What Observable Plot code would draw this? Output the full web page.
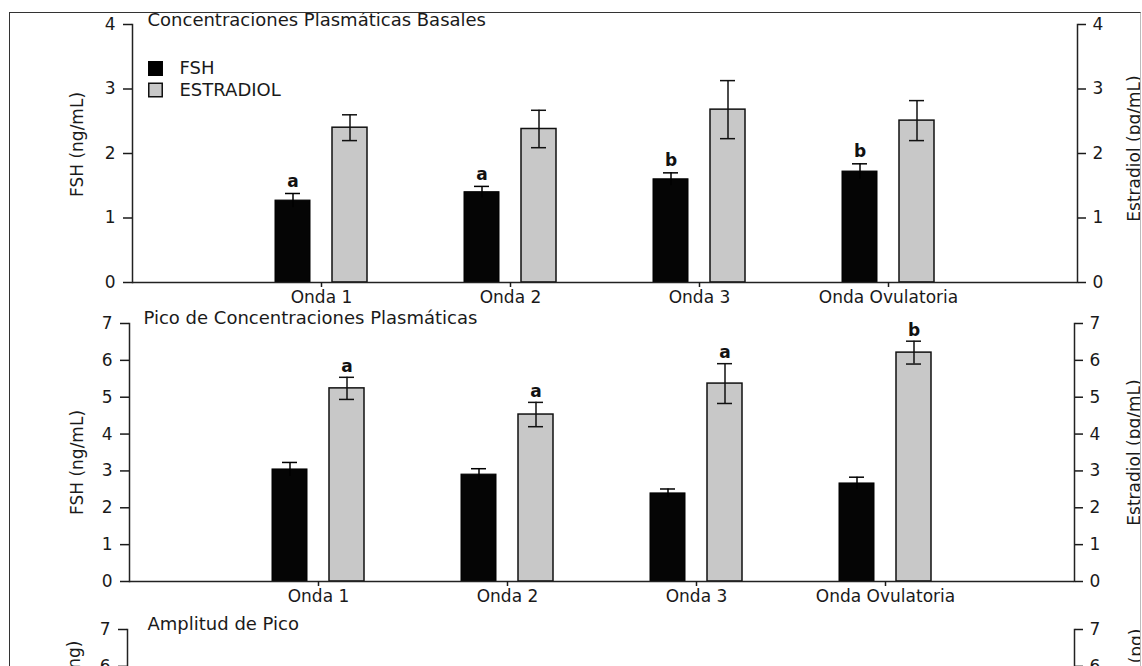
<!DOCTYPE html>
<html><head><meta charset="utf-8">
<script src="https://cdn.jsdelivr.net/npm/d3@7"></script>
<script src="https://cdn.jsdelivr.net/npm/@observablehq/plot@0.6"></script>
<style>
html,body{margin:0;padding:0;background:#fff;overflow:hidden;width:1142px;height:666px;}
#frame{position:absolute;left:9px;top:12px;width:1132px;height:700px;box-sizing:border-box;border:1px solid #333;border-right-color:#bbb;overflow:hidden;background:#fff;}
svg.panel{position:absolute;left:-10px;max-width:none !important;}
</style></head><body><div id="frame"></div>
<script>
// ---- data ----
const categories = ["Onda 1", "Onda 2", "Onda 3", "Onda Ovulatoria"];
const series = ["FSH", "ESTRADIOL"];

const basalFSH      = [1.27, 1.40, 1.60, 1.72];
const basalFSHerr   = [0.11, 0.09, 0.10, 0.12];
const basalE2       = [2.40, 2.38, 2.68, 2.51];
const basalE2err    = [0.20, 0.29, 0.45, 0.31];
const basalFSHlet   = ["a", "a", "b", "b"];
const basalE2let    = ["", "", "", ""];

const peakFSH       = [3.04, 2.90, 2.39, 2.66];
const peakFSHerr    = [0.19, 0.16, 0.12, 0.17];
const peakE2        = [5.24, 4.53, 5.37, 6.21];
const peakE2err     = [0.30, 0.33, 0.54, 0.31];
const peakFSHlet    = ["", "", "", ""];
const peakE2let     = ["a", "a", "a", "b"];

const basalTicks = [0, 1, 2, 3, 4];
const peakTicks  = [0, 1, 2, 3, 4, 5, 6, 7];
const ampTicks   = [6, 7];   // only the visible part of the truncated third panel
const ampMax     = 7;

const titles = ["Concentraciones Plasmáticas Basales", "Pico de Concentraciones Plasmáticas", "Amplitud de Pico"];
const leftLabels  = ["FSH (ng/mL)", "FSH (ng/mL)", "FSH (ng)"];
const rightLabels = ["Estradiol (pg/mL)", "Estradiol (pg/mL)", "Estradiol (pg)"];

function makeRows(fsh, fshErr, e2, e2Err, fshLet, e2Let) {
  if (!fsh) return [];
  return categories.map((c, i) => ({onda: c, fsh: fsh[i], fshErr: fshErr[i], e2: e2[i], e2Err: e2Err[i], fshLet: fshLet[i], e2Let: e2Let[i]}));
}

const W = 1142;
const FONT = "DejaVu Sans";
const fmt = d3.format("d");

function panel(o) {
  const rows = o.rows;
  const half = (W - o.ml - o.mr) / 5 / 2;
  const off = 28.5;
  const marks = [
    Plot.barY(rows, {x: "onda", y: "fsh", fill: "#050505", stroke: "#000", strokeWidth: 1, insetLeft: half - 46, insetRight: half + 11}),
    Plot.barY(rows, {x: "onda", y: "e2", fill: "#c8c8c8", stroke: "#111", strokeWidth: 1.5, insetLeft: half + 11, insetRight: half - 46}),
    Plot.ruleX(rows, {x: "onda", y1: d => d.fsh - d.fshErr, y2: d => d.fsh + d.fshErr, dx: -off, stroke: "#000", strokeWidth: 1.5}),
    Plot.tickY(rows, {x: "onda", y: d => d.fsh + d.fshErr, dx: -off, insetLeft: half - 7.5, insetRight: half - 7.5, stroke: "#000", strokeWidth: 1.5}),
    Plot.ruleX(rows, {x: "onda", y1: d => d.e2 - d.e2Err, y2: d => d.e2 + d.e2Err, dx: off, stroke: "#111", strokeWidth: 1.5}),
    Plot.tickY(rows, {x: "onda", y: d => d.e2 + d.e2Err, dx: off, insetLeft: half - 7.5, insetRight: half - 7.5, stroke: "#111", strokeWidth: 1.5}),
    Plot.tickY(rows, {x: "onda", y: d => d.e2 - d.e2Err, dx: off, insetLeft: half - 7.5, insetRight: half - 7.5, stroke: "#111", strokeWidth: 1.5}),
    Plot.text(rows.filter(d => d.fshLet), {x: "onda", y: d => d.fsh + d.fshErr, text: "fshLet", dx: -off, dy: -12, fontWeight: "bold", fontSize: 17, fill: "#111"}),
    Plot.text(rows.filter(d => d.e2Let), {x: "onda", y: d => d.e2 + d.e2Err, text: "e2Let", dx: off, dy: -11, fontWeight: "bold", fontSize: 17, fill: "#111"}),
    Plot.ruleY([0], {stroke: "#222", strokeWidth: 1.5}),
    Plot.frame({anchor: "left", stroke: "#222", strokeWidth: 1.5}),
    Plot.frame({anchor: "right", stroke: "#222", strokeWidth: 1.5}),
    Plot.axisY({anchor: "left", ticks: o.ticks, tickFormat: fmt, tickSize: 9, tickPadding: 8, fontSize: 17, label: null, strokeWidth: 1.5}),
    Plot.axisY({anchor: "right", ticks: o.ticks, tickFormat: fmt, tickSize: 8, tickPadding: 7, fontSize: 17, label: null, strokeWidth: 1.5}),
    Plot.text([o.title], {frameAnchor: "top-left", textAnchor: "start", lineAnchor: "middle", dx: o.titleDx, dy: o.titleDy, fontSize: 18}),
    Plot.text([o.left], {frameAnchor: o.lAnchor, rotate: -90, textAnchor: o.lText, lineAnchor: "middle", dx: o.lDx, dy: o.lDy, fontSize: 17}),
    Plot.text([o.right], {frameAnchor: o.rAnchor, rotate: -90, textAnchor: o.rText, lineAnchor: "middle", dx: o.rDx, dy: o.rDy, fontSize: 17})
  ];
  if (o.xAxis) {
    marks.push(Plot.axisX({anchor: "bottom", tickSize: 5, tickPadding: 3, fontSize: 17, label: null, strokeWidth: 1.5}));
  }
  if (o.legend) {
    marks.push(
      Plot.dot([series[0]], {frameAnchor: "top-left", dx: 23, dy: 44, symbol: "square", r: 7.6, fill: "#000", stroke: "#000"}),
      Plot.dot([series[1]], {frameAnchor: "top-left", dx: 23, dy: 65.5, symbol: "square", r: 7.6, fill: "#c8c8c8", stroke: "#111", strokeWidth: 1.5}),
      Plot.text([series[0]], {frameAnchor: "top-left", textAnchor: "start", lineAnchor: "middle", dx: 47, dy: 44, fontSize: 18}),
      Plot.text([series[1]], {frameAnchor: "top-left", textAnchor: "start", lineAnchor: "middle", dx: 47, dy: 65.5, fontSize: 18})
    );
  }
  const svg = Plot.plot({
    width: W, height: o.height,
    marginLeft: o.ml, marginRight: o.mr, marginTop: o.mt, marginBottom: o.mb,
    style: {fontFamily: FONT, color: "#1a1a1a", background: "transparent", overflow: "visible", maxWidth: "none"},
    x: {type: "band", domain: categories, paddingInner: 0, paddingOuter: 0.5, round: false, axis: null},
    y: {domain: [0, o.yMax], axis: null},
    marks
  });
  svg.classList.add("panel");
  svg.style.top = (o.top - 13) + "px";
  svg.style.maxWidth = "none";
  document.getElementById("frame").appendChild(svg);
}

panel({rows: makeRows(basalFSH, basalFSHerr, basalE2, basalE2err, basalFSHlet, basalE2let),
  ticks: basalTicks, yMax: 4, top: 0, height: 310, mt: 24, mb: 28, ml: 132, mr: 65, xAxis: true,
  title: titles[0], titleDx: 15, titleDy: -4, legend: true,
  left: leftLabels[0], lAnchor: "left", lText: "middle", lDx: -55, lDy: -9,
  right: rightLabels[0], rAnchor: "right", rText: "middle", rDx: 57, rDy: -5});

panel({rows: makeRows(peakFSH, peakFSHerr, peakE2, peakE2err, peakFSHlet, peakE2let),
  ticks: peakTicks, yMax: 7, top: 310, height: 300, mt: 13, mb: 29, ml: 129, mr: 68, xAxis: true,
  title: titles[1], titleDx: 14, titleDy: -5, legend: false,
  left: leftLabels[1], lAnchor: "left", lText: "middle", lDx: -52, lDy: 10,
  right: rightLabels[1], rAnchor: "right", rText: "middle", rDx: 60, rDy: 0});

panel({rows: [],
  ticks: ampTicks, yMax: ampMax, top: 610, height: 310, mt: 19, mb: 33, ml: 127, mr: 68, xAxis: false,
  title: titles[2], titleDx: 20, titleDy: -5, legend: false,
  left: leftLabels[2], lAnchor: "top-left", lText: "end", lDx: -53, lDy: 11,
  right: rightLabels[2], rAnchor: "top-right", rText: "end", rDx: 62, rDy: -1});
</script></body></html>
